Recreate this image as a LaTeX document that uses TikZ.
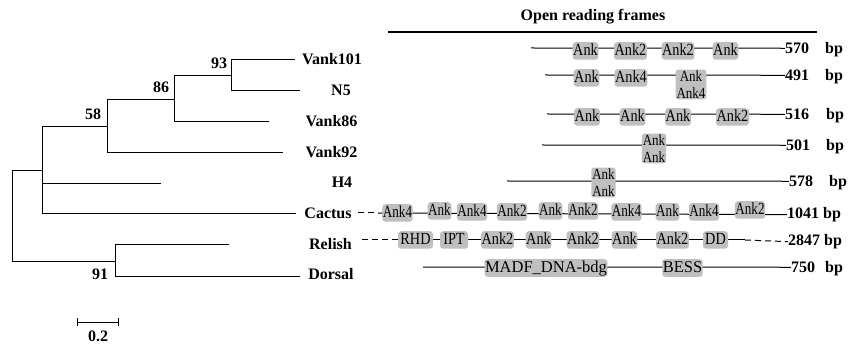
\documentclass[tikz,border=0pt]{standalone}
\usepackage{fontspec}
\usepackage{graphicx}
\usetikzlibrary{calc}
\setmainfont{Liberation Serif}
\newfontfamily\domfont{Liberation Serif}[FakeStretch=0.84]
\begin{document}
\begin{tikzpicture}[x=1pt,y=-1pt,
  br/.style={line width=0.9pt, black},
  lbl/.style={font=\fontsize{16}{16}\selectfont\bfseries, inner sep=0pt},
  orf/.style={line width=1pt, black},
  orfdash/.style={orf, dash pattern=on 6pt off 4pt},
  dom/.style={fill=gray!50, rounded corners=3pt, inner xsep=0.5pt, inner ysep=1.5pt,
              text height=11.5pt, text depth=3pt, font=\domfont\fontsize{17}{17}\selectfont},
  stk/.style={fill=gray!50, rounded corners=3pt, inner xsep=1pt, inner ysep=1pt,
              align=center, font=\domfont\fontsize{15.5}{17.2}\selectfont},
  bigdom/.style={dom, font=\fontsize{16.5}{16.5}\selectfont},
  bpn/.style={font=\fontsize{16}{16}\selectfont\bfseries, inner sep=0pt, anchor=base west},
]
\useasboundingbox (0,0) rectangle (848,347);

% ---------------- tree ----------------
\coordinate (tVank101) at (295,59);
\coordinate (tN5) at (300,90);
\coordinate (tVank86) at (269,121);
\coordinate (tVank92) at (283,152);
\coordinate (tH4) at (161,183);
\coordinate (tCactus) at (296,213);
\coordinate (tRelish) at (229,244);
\coordinate (tDorsal) at (300,276);

\draw[br] (12,170) -- (12,261);
\draw[br] (12,170) -- (42,170);
\draw[br] (12,261) -- (115,261);
\draw[br] (42,126) -- (42,213);
\draw[br] (42,126) -- (107,126);
\draw[br] (42,183) -- (tH4);
\draw[br] (42,213) -- (tCactus);
\draw[br] (107,99) -- (107,152);
\draw[br] (107,99) -- (174,99);
\draw[br] (107,152) -- (tVank92);
\draw[br] (174,75) -- (174,121);
\draw[br] (174,75) -- (231,75);
\draw[br] (174,121) -- (tVank86);
\draw[br] (231,59) -- (231,90);
\draw[br] (231,59) -- (tVank101);
\draw[br] (231,90) -- (tN5);
\draw[br] (115,244) -- (115,276);
\draw[br] (115,244) -- (tRelish);
\draw[br] (115,276) -- (tDorsal);

\node[lbl] (b93) at (219,63) {93};
\node[lbl] (b86) at (161,87) {86};
\node[lbl] (b58) at (93,114) {58};
\node[lbl] (b91) at (100,274) {91};

\node[lbl] (lVank101) at (332,59) {Vank101};
\node[lbl] (lN5) at (341,90) {N5};
\node[lbl] (lVank86) at (331.5,121) {Vank86};
\node[lbl] (lVank92) at (331.5,152) {Vank92};
\node[lbl] (lH4) at (342,182) {H4};
\node[lbl] (lCactus) at (328,213) {Cactus};
\node[lbl] (lRelish) at (330.5,244) {Relish};
\node[lbl] (lDorsal) at (331,274) {Dorsal};

% scale bar
\coordinate (sb1) at (77,322);
\coordinate (sb2) at (118,322);
\draw[br] (sb1) -- (sb2);
\draw[br] ($(sb1)+(0,-4)$) -- ($(sb1)+(0,4)$);
\draw[br] ($(sb2)+(0,-4)$) -- ($(sb2)+(0,4)$);
\node[lbl] (sbl) at (98,336) {0.2};

% ---------------- ORFs ----------------
\node[lbl] (hdr) at (593,17) {Open reading frames};
\coordinate (h1) at (388,32);
\coordinate (h2) at (817,32);
\draw[line width=1.3pt] (h1) -- (h2);

% row 1 Vank101
\coordinate (s1) at (531,48);
\node[bpn] (n1) at (785,53.5) {570};
\node[bpn] (u1) at (825,53.5) {bp};
\draw[orf] (s1) -- (n1.west);
\node[dom] (d11) at (585.5,51) {Ank};
\node[dom] (d12) at (630.5,51) {Ank2};
\node[dom] (d13) at (678,51) {Ank2};
\node[dom] (d14) at (725.5,51) {Ank};

% row 2 N5
\coordinate (s2) at (545,75);
\node[bpn] (n2) at (785,80.5) {491};
\node[bpn] (u2) at (825,80.5) {bp};
\draw[orf] (s2) -- (n2.west);
\node[dom] (d21) at (586.5,78) {Ank};
\node[dom] (d22) at (631,78) {Ank4};
\node[stk] (d23) at (691,84.5) {Ank\\Ank4};

% row 3 Vank86
\coordinate (s3) at (547,114);
\node[bpn] (n3) at (785,119.5) {516};
\node[bpn] (u3) at (826,119.5) {bp};
\draw[orf] (s3) -- (n3.west);
\node[dom] (d31) at (587,117) {Ank};
\node[dom] (d32) at (632.5,117) {Ank};
\node[dom] (d33) at (678,117) {Ank};
\node[dom] (d34) at (732.5,117) {Ank2};

% row 4 Vank92
\coordinate (s4) at (542,145);
\node[bpn] (n4) at (786,150.5) {501};
\node[bpn] (u4) at (826,150.5) {bp};
\draw[orf] (s4) -- (n4.west);
\node[stk] (d41) at (654,148.5) {Ank\\Ank};

% row 5 H4
\coordinate (s5) at (507,181);
\node[bpn] (n5) at (789,186.5) {578};
\node[bpn] (u5) at (829,186.5) {bp};
\draw[orf] (s5) -- (n5.west);
\node[stk] (d51) at (603.5,182.5) {Ank\\Ank};

% row 6 Cactus
\coordinate (s6) at (358,213);
\coordinate (s6b) at (378,213);
\node[bpn] (n6) at (787,218.5) {1041 bp};
\draw[orfdash] (s6) -- (s6b);
\draw[orf] (s6b) -- (n6.west);
\node[dom] (d61) at (397.5,213) {\scalebox{0.92}[1]{Ank4}};
\node[dom] (d62) at (439.5,211) {\scalebox{0.92}[1]{Ank}};
\node[dom] (d63) at (472,212) {\scalebox{0.92}[1]{Ank4}};
\node[dom] (d64) at (512,212) {\scalebox{0.92}[1]{Ank2}};
\node[dom] (d65) at (550.5,211) {\scalebox{0.92}[1]{Ank}};
\node[dom] (d66) at (583,211) {\scalebox{0.92}[1]{Ank2}};
\node[dom] (d67) at (626.5,212) {\scalebox{0.92}[1]{Ank4}};
\node[dom] (d68) at (667.5,212) {\scalebox{0.92}[1]{Ank}};
\node[dom] (d69) at (704,212) {\scalebox{0.92}[1]{Ank4}};
\node[dom] (d610) at (750,210) {\scalebox{0.92}[1]{Ank2}};

% row 7 Relish
\coordinate (s7) at (362,240);
\coordinate (s7b) at (392,240);
\coordinate (e7) at (745,240);
\node[bpn] (n7) at (788,245.5) {2847 bp};
\draw[orfdash] (s7) -- (s7b);
\draw[orf] (s7b) -- (e7);
\draw[orfdash] (e7) -- (n7.west);
\node[dom, minimum width=35pt] (d71) at (415.5,240) {RHD};
\node[dom, minimum width=28pt] (d72) at (454,240) {IPT};
\node[dom] (d73) at (497.5,240) {Ank2};
\node[dom] (d74) at (538.5,240) {Ank};
\node[dom] (d75) at (583,240) {Ank2};
\node[dom] (d76) at (624.5,240) {Ank};
\node[dom] (d77) at (672.5,240) {Ank2};
\node[dom, minimum width=25pt] (d78) at (715.5,240) {DD};

% row 8 Dorsal
\coordinate (s8) at (423,267);
\node[bpn] (n8) at (791,272.5) {750};
\node[bpn] (u8) at (825,272.5) {bp};
\draw[orf] (s8) -- (n8.west);
\node[bigdom] (d81) at (546,268) {MADF\_DNA-bdg};
\node[bigdom] (d82) at (682.5,268) {BESS};
\end{tikzpicture}
\end{document}
